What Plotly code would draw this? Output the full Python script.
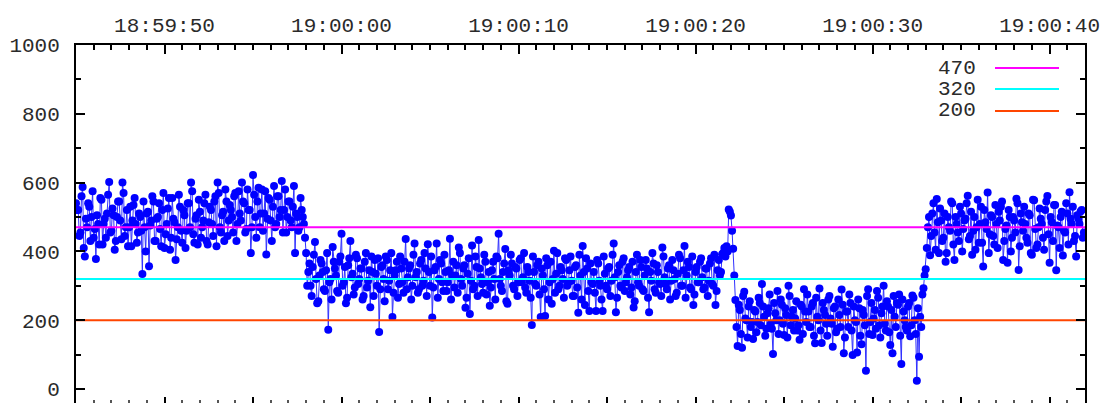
import plotly.graph_objects as go
import pandas as pd

# ---------------- data ----------------
# each segment is given as two interleaved sample lists (odd / even samples)
seg_a = [540, 520, 455, 587, 385, 470, 530, 500, 440, 378,
         480, 555, 420, 495, 510, 602, 460, 505, 430, 545,
         490, 600, 445, 520, 470, 415, 535, 480, 455, 500,
         334, 470, 510, 357, 490, 545, 430, 500, 465, 520,
         410, 480, 555, 440, 495, 375, 470, 530, 425, 505,
         460, 540, 600, 450, 495, 420, 515, 470, 540, 430,
         485, 520, 445, 560, 600, 470, 505, 430, 545, 490,
         520, 455, 570, 480, 510, 600, 540, 465, 520, 395,
         622, 500, 545, 470, 580, 510, 391, 555, 490, 530,
         470, 560, 500, 605, 520, 455, 545, 490, 530, 395,
         500, 470, 520, 480]
seg_a2 = [520, 445, 560, 410, 495, 540, 430, 575, 465, 505,
          420, 550, 480, 440, 565, 455, 525, 405, 500, 545,
          435, 570, 470, 415, 530, 490, 555, 425, 510, 460,
          545, 400, 515, 475, 560, 430, 495, 540, 415, 570,
          450, 525, 405, 555, 485, 435, 565, 460, 520, 410,
          540, 470, 575, 425, 505, 550, 440, 490, 565, 420,
          530, 480, 545, 415, 570, 455, 515, 580, 445, 535,
          500, 560, 430, 575, 490, 545, 455, 580, 520, 470,
          565, 440, 585, 510, 460, 575, 495, 550, 430, 590,
          480, 560, 520, 455, 580, 500, 545, 470, 590, 510,
          460, 555, 500, 440]

seg_b = [395, 340, 300, 355, 427, 249, 330, 365, 290, 345,
         172, 320, 413, 350, 285, 370, 451, 310, 249, 360,
         430, 335, 295, 380, 320, 350, 270, 395, 315, 238,
         340, 375, 300, 166, 355, 320, 385, 290, 345, 209,
         330, 370, 305, 350, 280, 436, 325, 360, 300, 423,
         340, 290, 375, 315, 350, 421, 300, 208, 345, 423,
         320, 365, 285, 340, 310, 437, 330, 295, 360, 411,
         320, 350, 236, 335, 218, 417, 300, 355, 433, 325,
         280, 370, 310, 242, 345, 320, 385, 451, 300, 340,
         407, 248, 330, 365, 290, 350, 310, 380, 325, 295,
         355, 315, 186, 340, 300, 370, 209, 330, 212, 360,
         310, 248, 402, 335, 290, 355, 320, 380, 300, 345,
         315, 270, 360, 222, 330, 416, 244, 350, 227, 310,
         340, 227, 365, 300, 227, 335, 290, 355, 315, 423,
         223, 340, 300, 370, 285, 325, 355, 295, 237, 340,
         310, 375, 290, 330, 350, 223, 315, 365, 280, 340,
         305, 411, 325, 290, 360, 315, 345, 270, 335, 380,
         300, 416, 330, 355, 290, 244, 340, 310, 370, 325,
         295, 350, 315, 380, 300, 244, 345, 330, 392, 410,
         415]
seg_b2 = [300, 365, 270, 390, 320, 255, 375, 340, 285, 395,
          310, 260, 370, 330, 280, 385, 300, 355, 265, 380,
          325, 275, 390, 305, 350, 260, 370, 295, 345, 385,
          270, 335, 380, 290, 360, 255, 375, 315, 395, 280,
          345, 265, 385, 310, 370, 290, 350, 260, 390, 325,
          280, 365, 300, 395, 270, 340, 385, 295, 355, 265,
          375, 310, 390, 285, 345, 260, 370, 330, 280, 395,
          300, 360, 265, 380, 315, 290, 385, 270, 350, 305,
          390, 275, 340, 295, 370, 260, 380, 320, 285, 365,
          255, 345, 390, 300, 355, 270, 375, 310, 395, 280,
          340, 265, 385, 305, 360, 275, 350, 290, 380, 260,
          370, 320, 280, 395, 300, 345, 265, 375, 310, 385,
          270, 355, 295, 390, 260, 340, 380, 285, 365, 305,
          280, 375, 315, 260, 385, 300, 350, 270, 390, 325,
          265, 360, 295, 380, 310, 345, 275, 370, 255, 390,
          300, 355, 285, 375, 265, 340, 395, 290, 360, 310,
          270, 385, 305, 350, 260, 375, 320, 280, 390, 300,
          345, 265, 370, 295, 385, 275, 355, 310, 380, 290,
          350, 270, 365, 305, 390, 285, 375, 340, 395, 385,
          400]

spike = [522, 504, 408]
spike2 = [515, 460, 330]

seg_c = [259, 125, 230, 120, 283, 200, 240, 180, 145, 225,
         195, 250, 305, 210, 175, 235, 190, 102, 220, 285,
         200, 245, 157, 215, 300, 185, 230, 205, 170, 143,
         240, 290, 195, 225, 180, 250, 133, 210, 292, 134,
         230, 190, 260, 205, 123, 240, 175, 215, 289, 104,
         225, 180, 250, 99, 200, 106, 235, 130, 215, 53,
         290, 195, 157, 230, 285, 185, 220, 300, 170, 240,
         128, 104, 210, 250, 275, 73, 225, 180, 240, 153,
         272, 200, 24, 94, 180]
seg_c2 = [180, 245, 160, 270, 205, 150, 255, 195, 230, 165,
          265, 185, 240, 155, 220, 275, 175, 250, 200, 160,
          260, 190, 235, 150, 270, 210, 170, 255, 185, 245,
          160, 225, 275, 180, 240, 155, 265, 200, 170, 250,
          215, 155, 270, 190, 235, 165, 260, 180, 245, 150,
          225, 275, 170, 240, 195, 260, 155, 230, 185, 270,
          160, 250, 205, 175, 265, 150, 240, 190, 255, 165,
          230, 270, 180, 245, 155, 260, 200, 170, 250, 185,
          265, 160, 235, 210, 275]

seg_d = [293, 348, 470, 389, 510, 455, 552, 395, 490, 440,
         370, 500, 460, 540, 375, 480, 430, 510, 465, 495,
         562, 445, 390, 500, 470, 425, 530, 356, 485, 571,
         450, 500, 420, 480, 515, 530, 375, 465, 367, 500,
         440, 490, 553, 346, 510, 460, 480, 425, 505, 390,
         549, 410, 470, 495, 440, 520, 561, 367, 485, 535,
         345, 470, 500, 388, 455, 510, 572, 480, 430, 385,
         495, 516, 440]
seg_d2 = [330, 410, 500, 445, 540, 405, 485, 525, 430, 510,
          395, 470, 545, 420, 500, 455, 530, 400, 490, 540,
          435, 515, 460, 405, 550, 480, 425, 520, 465, 395,
          505, 445, 535, 410, 490, 545, 430, 475, 520, 400,
          500, 455, 540, 415, 485, 530, 440, 510, 395, 550,
          465, 420, 525, 480, 405, 545, 450, 500, 430, 535,
          475, 410, 515, 460, 540, 420, 495, 530, 445, 505,
          480, 520, 455]


def interleave(first, second):
    return [v for pair in zip(first, second) for v in pair]


values = (interleave(seg_a, seg_a2) + interleave(seg_b, seg_b2)
          + interleave(spike, spike2) + interleave(seg_c, seg_c2)
          + interleave(seg_d, seg_d2))

t_start = "2024-01-01 18:59:45"
t_end = "2024-01-01 19:00:42"
sample_period = "62500us"
times = pd.date_range(t_start, periods=len(values), freq=sample_period)

threshold_values = [470, 320, 200]
threshold_labels = ["470", "320", "200"]
threshold_colors = ["#ff00ff", "#00ffff", "#ff4500"]

top_tick_times = ["2024-01-01 18:59:50", "2024-01-01 19:00:00", "2024-01-01 19:00:10",
                  "2024-01-01 19:00:20", "2024-01-01 19:00:30", "2024-01-01 19:00:40"]
top_tick_labels = ["18:59:50", "19:00:00", "19:00:10", "19:00:20", "19:00:30", "19:00:40"]
y_tick_values = [0, 200, 400, 600, 800, 1000]

# ---------------- figure ----------------
FONT = "Liberation Mono"
TXT = "#2a2a2a"
fig = go.Figure()

fig.add_trace(go.Scatter(
    x=times, y=values, mode="lines+markers",
    line=dict(color="#3030ff", width=1),
    marker=dict(color="#0000ff", size=8, line=dict(width=0)),
    xaxis="x", yaxis="y", showlegend=False,
))

for v, lab, col in zip(threshold_values, threshold_labels, threshold_colors):
    fig.add_trace(go.Scatter(
        x=[t_start, t_end], y=[v, v], mode="lines",
        line=dict(color=col, width=2), name=lab,
        xaxis="x2", yaxis="y", showlegend=False,
    ))

# legend drawn gnuplot-style: label text, then line sample on its right
W, H = 1101, 403
ML, MR, MT, MB = 76, 16, 45, 0
pw, ph = W - ML - MR, H - MT - MB


def px(x):
    return (x - ML) / pw


def py(y):
    return (H - MB - y) / ph


rows_y = [68, 89, 111]
for lab, col, ry in zip(threshold_labels, threshold_colors, rows_y):
    fig.add_annotation(x=px(978), y=py(ry), xref="paper", yref="paper",
                       text=lab, showarrow=False, xanchor="right", yanchor="middle",
                       font=dict(family=FONT, size=21, color=TXT))
    fig.add_shape(type="line", xref="paper", yref="paper",
                  x0=px(995), x1=px(1059), y0=py(ry), y1=py(ry),
                  line=dict(color=col, width=2))

fig.update_layout(
    width=W, height=H,
    margin=dict(l=ML, r=MR, t=MT, b=MB, autoexpand=False),
    paper_bgcolor="white", plot_bgcolor="white",
    showlegend=False,
    xaxis=dict(
        type="date", range=[t_start, t_end], side="top", anchor="y",
        tickmode="array", tickvals=top_tick_times, ticktext=top_tick_labels,
        ticks="inside", ticklen=9, tickwidth=1.5, tickcolor="black",
        showline=True, linecolor="black", linewidth=2, mirror=False,
        showgrid=False, zeroline=False,
        minor=dict(tickmode="linear", tick0=t_start, dtick=1000, ticks="inside",
                   ticklen=5, tickwidth=1.5, tickcolor="black", showgrid=False),
        tickfont=dict(family=FONT, size=21, color=TXT),
        ticklabelstandoff=3,
    ),
    xaxis2=dict(
        type="date", range=[t_start, t_end], side="bottom", anchor="y",
        overlaying="x", tickmode="linear", tick0=t_start, dtick=5000,
        ticks="inside", ticklen=6, tickwidth=1.5, tickcolor="black",
        showticklabels=False, showline=False, showgrid=False, zeroline=False,
        minor=dict(tickmode="linear", tick0=t_start, dtick=1000, ticks="inside",
                   ticklen=3, tickwidth=1.5, tickcolor="#555555", showgrid=False),
    ),
    yaxis=dict(
        range=[-40.7, 1000], tickmode="array", tickvals=y_tick_values,
        ticks="inside", ticklen=9, tickwidth=1.5, tickcolor="black",
        showline=True, linecolor="black", linewidth=2, mirror="ticks",
        showgrid=False, zeroline=False,
        minor=dict(tickmode="linear", tick0=0, dtick=100, ticks="inside",
                   ticklen=5, tickwidth=1.5, tickcolor="black", showgrid=False),
        tickfont=dict(family=FONT, size=21, color=TXT),
        ticklabelstandoff=10,
    ),
)

fig.write_html(
    "out.html",
    config={"displayModeBar": False},
    post_script="document.body.style.margin='0';document.body.style.overflow='hidden';",
)
